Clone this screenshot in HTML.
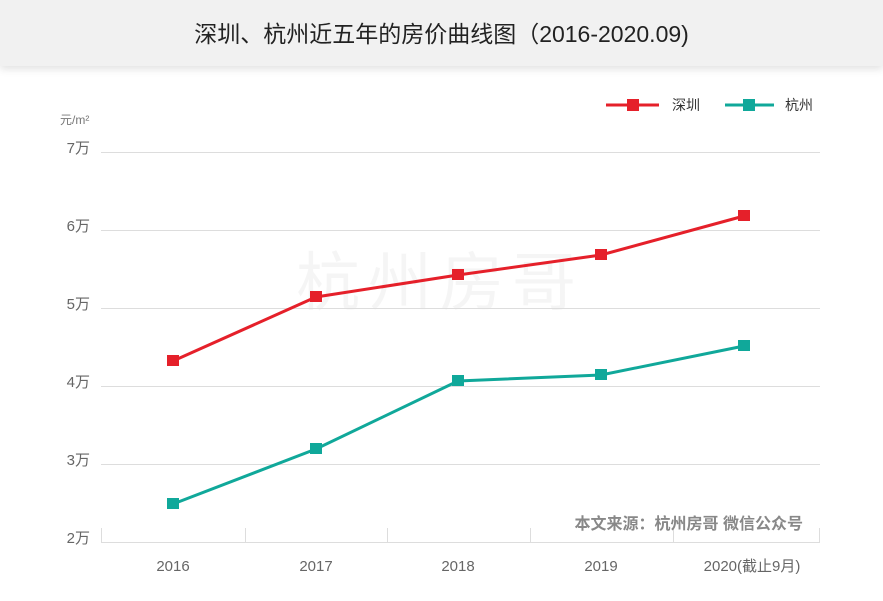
<!DOCTYPE html>
<html><head><meta charset="utf-8"><style>
body{margin:0;width:883px;height:601px;overflow:hidden;background:#fff;font-family:"Liberation Sans","Noto Sans CJK SC",sans-serif;}
.hdr{position:absolute;left:0;top:0;width:883px;height:66px;background:#f1f1f1;box-shadow:0 3px 8px rgba(0,0,0,0.12);text-align:center;line-height:68px;font-size:23px;color:#222;}
</style></head><body>
<div class="hdr">深圳、杭州近五年的房价曲线图（2016-2020.09)</div>
<svg width="883" height="601" style="position:absolute;left:0;top:0" font-family="Liberation Sans, Noto Sans CJK SC, sans-serif">
<text x="440" y="305" font-size="64" fill="#000" fill-opacity="0.04" text-anchor="middle" letter-spacing="8">杭州房哥</text>
<g stroke="#ddd" stroke-width="1">
<line x1="101" x2="820" y1="152.5" y2="152.5"/>
<line x1="101" x2="820" y1="230.5" y2="230.5"/>
<line x1="101" x2="820" y1="308.5" y2="308.5"/>
<line x1="101" x2="820" y1="386.5" y2="386.5"/>
<line x1="101" x2="820" y1="464.5" y2="464.5"/>
<line x1="101" x2="820" y1="542.5" y2="542.5"/>
<line x1="101.5" x2="101.5" y1="528" y2="542"/>
<line x1="245.5" x2="245.5" y1="528" y2="542"/>
<line x1="387.5" x2="387.5" y1="528" y2="542"/>
<line x1="530.5" x2="530.5" y1="528" y2="542"/>
<line x1="673.5" x2="673.5" y1="528" y2="542"/>
<line x1="819.5" x2="819.5" y1="528" y2="542"/>
</g>
<g font-size="15" fill="#666" text-anchor="end">
<text x="90" y="153">7万</text><text x="90" y="231">6万</text><text x="90" y="309">5万</text>
<text x="90" y="387">4万</text><text x="90" y="465">3万</text><text x="90" y="543">2万</text>
</g>
<text x="60" y="124" font-size="12" fill="#777">元/m²</text>
<g font-size="15" fill="#666" text-anchor="middle">
<text x="173" y="571">2016</text><text x="316" y="571">2017</text><text x="458" y="571">2018</text>
<text x="601" y="571">2019</text><text x="752" y="571">2020(截止9月)</text>
</g>
<text x="803" y="529" font-size="16" font-weight="bold" fill="#888" text-anchor="end">本文来源：杭州房哥 微信公众号</text>
<polyline points="173,361 316,297 458,275 601,255 744,216" fill="none" stroke="#e5202a" stroke-width="3"/>
<g fill="#e5202a"><rect x="167" y="355" width="12" height="11"/><rect x="310" y="291" width="12" height="11"/><rect x="452" y="269" width="12" height="11"/><rect x="595" y="249" width="12" height="11"/><rect x="738" y="210" width="12" height="11"/></g>
<polyline points="173,504 316,449 458,381 601,375 744,346" fill="none" stroke="#10a89a" stroke-width="3"/>
<g fill="#10a89a"><rect x="167" y="498" width="12" height="11"/><rect x="310" y="443" width="12" height="11"/><rect x="452" y="375" width="12" height="11"/><rect x="595" y="369" width="12" height="11"/><rect x="738" y="340" width="12" height="11"/></g>
<line x1="606" x2="659" y1="105" y2="105" stroke="#e5202a" stroke-width="3"/><rect x="627" y="99" width="12" height="12" fill="#e5202a"/>
<text x="672" y="110" font-size="14" fill="#333">深圳</text>
<line x1="725" x2="774" y1="105" y2="105" stroke="#10a89a" stroke-width="3"/><rect x="743" y="99" width="12" height="12" fill="#10a89a"/>
<text x="785" y="110" font-size="14" fill="#333">杭州</text>
</svg>
</body></html>
